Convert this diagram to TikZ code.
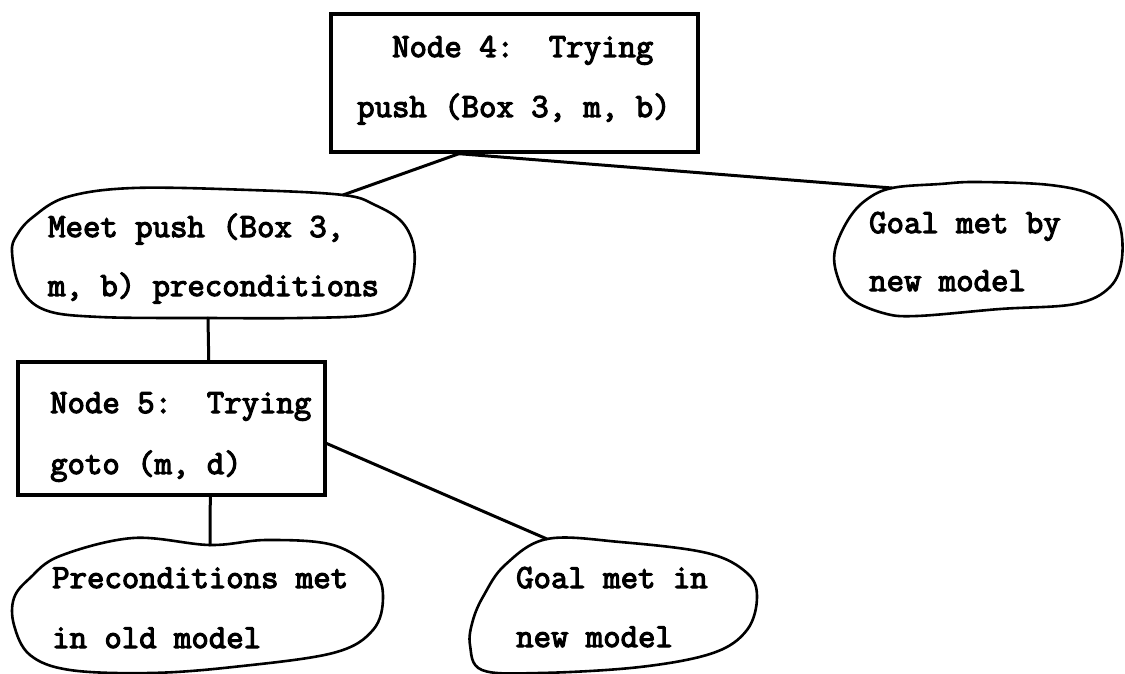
\documentclass[tikz,border=0pt]{standalone}
\usepackage{fontspec}
\newfontfamily\typewriter{Latin Modern Mono}[FakeBold=3.5]
\usetikzlibrary{calc}
\tikzset{
  frame/.style={draw, line width=3.4pt, inner sep=0pt},
  blob/.style={draw, line width=2.6pt, line join=round},
  link/.style={line width=3pt, line cap=round},
  txt/.style={anchor=base west, inner sep=0pt,
    font=\typewriter\fontsize{33.8}{33.8}\selectfont},
}
\begin{document}
\begin{tikzpicture}[x=1pt,y=-1pt]
\useasboundingbox (0,0) rectangle (1125,674);

% rectangular search nodes
\node[frame, minimum width=367pt, minimum height=138pt] (n4) at (514.5,83) {};
\node[frame, minimum width=307pt, minimum height=133pt] (n5) at (171.5,428.5) {};

% rounded goal bubbles
\path[blob] plot[smooth cycle, tension=0.6] coordinates {
  (343,195) (375,205) (402,222) (414,248) (412,280) (400,303) (370,315)
  (300,318) (208,318) (100,317) (45,310) (20,287) (12,252) (17,235)
  (33,217) (67,197) (133,188) (250,190)};
\coordinate (meet-top) at (343,195);
\coordinate (meet-foot) at (208,318);

\path[blob] plot[smooth cycle, tension=0.6] coordinates {
  (892,188) (940,184) (977,182) (1050,185) (1095,196) (1118,220)
  (1122,258) (1110,287) (1075,304) (1000,309) (917,316) (883,313)
  (850,298) (837,275) (835,250) (848,220) (866,200)};
\coordinate (goalby-top) at (892,188);

\path[blob] plot[smooth cycle, tension=0.6] coordinates {
  (210,545) (267,540) (333,545) (373,570) (383,597) (373,630)
  (333,653) (233,667) (150,673) (70,670) (30,655) (14,625) (14,598)
  (30,578) (60,556) (133,538)};
\coordinate (pre-top) at (210,545);

\path[blob] plot[smooth cycle, tension=0.6] coordinates {
  (547,539) (620,542) (707,553) (747,573) (757,597) (747,630)
  (713,653) (640,667) (540,673) (482,670) (470,645) (473,620)
  (484,595) (505,565)};
\coordinate (goalin-top) at (547,539);

% labels
\node[txt] (t4a) at (392,57)  {Node 4:\ \ Trying};
\node[txt] (t4b) at (357,117) {push (Box 3, m, b)};
\node[txt] (tma) at (48,237)  {Meet push (Box 3,};
\node[txt] (tmb) at (48,296)  {m, b) preconditions};
\node[txt] (tga) at (869,233) {Goal met by};
\node[txt] (tgb) at (869,291) {new model};
\node[txt] (t5a) at (50,413)  {Node 5:\ \ Trying};
\node[txt] (t5b) at (50,474)  {goto (m, d)};
\node[txt] (tpa) at (52,588)  {Preconditions met};
\node[txt] (tpb) at (52,648)  {in old model};
\node[txt] (tna) at (516,588) {Goal met in};
\node[txt] (tnb) at (516,647) {new model};

% tree links
\coordinate (n4-foot) at ($(n4.south west)!0.35!(n4.south east)$);
\coordinate (n5-top)  at ($(n5.north west)!0.62!(n5.north east)$);
\coordinate (n5-foot) at ($(n5.south west)!0.625!(n5.south east)$);
\coordinate (n5-side) at ($(n5.north east)!0.61!(n5.south east)$);
\draw[link] (n4-foot) -- (meet-top);
\draw[link] (n4-foot) -- (goalby-top);
\draw[link] (meet-foot) -- (n5-top);
\draw[link] (n5-foot) -- (pre-top);
\draw[link] (n5-side) -- (goalin-top);
\end{tikzpicture}
\end{document}
